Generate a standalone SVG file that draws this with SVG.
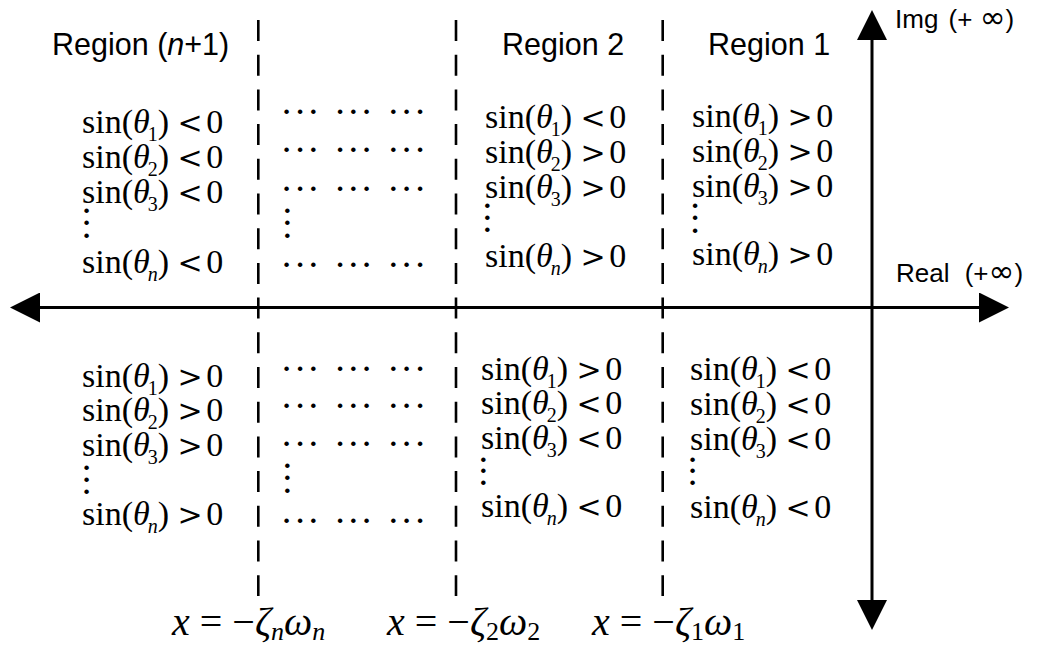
<svg xmlns="http://www.w3.org/2000/svg" width="1039" height="649" viewBox="0 0 1039 649">
<style>
.lbl{font-family:"Liberation Sans",Arial,sans-serif;font-size:30.5px;fill:#000}
.ax{font-family:"Liberation Sans",Arial,sans-serif;font-size:26px;fill:#000}
.inf{font-family:"DejaVu Sans",sans-serif;font-size:31px}
.m{font-family:"Liberation Serif","Times New Roman",serif;font-size:34px;fill:#000}
.r{font-family:"DejaVu Serif",serif;font-size:30px}
.i{font-style:italic}
.s{font-size:20px}
.xl{font-family:"Liberation Serif","Times New Roman",serif;font-size:40px;fill:#000}
.xs{font-size:26px}
.hd,.vd{font-family:"Liberation Serif","Times New Roman",serif;font-size:38px;fill:#000;text-anchor:middle}
.axis{stroke:#000;stroke-width:3;fill:none}
.dash{stroke:#000;stroke-width:2.6;stroke-dasharray:21 13.7;fill:none}
</style>
<defs>
<marker id="arr" markerUnits="userSpaceOnUse" markerWidth="30" markerHeight="30" viewBox="0 0 30 30" refX="0" refY="15" orient="auto-start-reverse">
<path d="M0,0 L30,15 L0,30 z" fill="#000"/>
</marker>
</defs>
<rect width="1039" height="649" fill="#fff"/>
<g id="connectors">
<line class="axis" x1="40" y1="307.5" x2="979" y2="307.5" marker-start="url(#arr)" marker-end="url(#arr)"/>
<line class="axis" x1="872" y1="40" x2="872" y2="600" marker-start="url(#arr)" marker-end="url(#arr)"/>
<line class="dash" x1="258.3" y1="20" x2="258.3" y2="596"/>
<line class="dash" x1="456" y1="20" x2="456" y2="596"/>
<line class="dash" x1="662.7" y1="20" x2="662.7" y2="596"/>
</g>
<g id="axis-labels">
<text class="ax" x="895" y="28">Img <tspan dx="3">(+</tspan> <tspan class="inf">∞</tspan>)</text>
<text class="ax" x="896" y="282">Real <tspan dx="8">(+</tspan><tspan class="inf">∞</tspan>)</text>
</g>
<g id="region-n1">
<text class="lbl" x="52" y="55">Region (<tspan class="i">n</tspan>+1)</text>
<text class="m" x="82" y="133">sin(<tspan class="i">θ</tspan><tspan class="s" dx="-2" dy="8">1</tspan><tspan dy="-8">)</tspan> <tspan class="r">&lt;</tspan><tspan dx="-5"> 0</tspan></text>
<text class="m" x="82" y="168">sin(<tspan class="i">θ</tspan><tspan class="s" dx="-2" dy="8">2</tspan><tspan dy="-8">)</tspan> <tspan class="r">&lt;</tspan><tspan dx="-5"> 0</tspan></text>
<text class="m" x="82" y="203">sin(<tspan class="i">θ</tspan><tspan class="s" dx="-2" dy="8">3</tspan><tspan dy="-8">)</tspan> <tspan class="r">&lt;</tspan><tspan dx="-5"> 0</tspan></text>
<text class="vd"><tspan x="86.7" y="223">·</tspan><tspan x="86.7" dy="12.3">·</tspan><tspan x="86.7" dy="12.3">·</tspan></text>
<text class="m" x="82" y="273">sin(<tspan class="i">θ</tspan><tspan class="s i" dx="-2" dy="8">n</tspan><tspan dy="-8">)</tspan> <tspan class="r">&lt;</tspan><tspan dx="-5"> 0</tspan></text>
<text class="m" x="82" y="387">sin(<tspan class="i">θ</tspan><tspan class="s" dx="-2" dy="8">1</tspan><tspan dy="-8">)</tspan> <tspan class="r">&gt;</tspan><tspan dx="-5"> 0</tspan></text>
<text class="m" x="82" y="421">sin(<tspan class="i">θ</tspan><tspan class="s" dx="-2" dy="8">2</tspan><tspan dy="-8">)</tspan> <tspan class="r">&gt;</tspan><tspan dx="-5"> 0</tspan></text>
<text class="m" x="82" y="456">sin(<tspan class="i">θ</tspan><tspan class="s" dx="-2" dy="8">3</tspan><tspan dy="-8">)</tspan> <tspan class="r">&gt;</tspan><tspan dx="-5"> 0</tspan></text>
<text class="vd"><tspan x="86.7" y="480">·</tspan><tspan x="86.7" dy="12">·</tspan><tspan x="86.7" dy="12">·</tspan></text>
<text class="m" x="82" y="525">sin(<tspan class="i">θ</tspan><tspan class="s i" dx="-2" dy="8">n</tspan><tspan dy="-8">)</tspan> <tspan class="r">&gt;</tspan><tspan dx="-5"> 0</tspan></text>
</g>
<g id="region-middle">
<text class="hd" x="286.7 300 313.3 326.6 340 353.3 366.6 380 393.3 406.6 420" y="124.3">··· ··· ···</text>
<text class="hd" x="286.7 300 313.3 326.6 340 353.3 366.6 380 393.3 406.6 420" y="162.3">··· ··· ···</text>
<text class="hd" x="286.7 300 313.3 326.6 340 353.3 366.6 380 393.3 406.6 420" y="201.3">··· ··· ···</text>
<text class="vd"><tspan x="287.3" y="223">·</tspan><tspan x="287.3" dy="12.3">·</tspan><tspan x="287.3" dy="12.3">·</tspan></text>
<text class="hd" x="286.7 300 313.3 326.6 340 353.3 366.6 380 393.3 406.6 420" y="277.3">··· ··· ···</text>
<text class="hd" x="286.7 300 313.3 326.6 340 353.3 366.6 380 393.3 406.6 420" y="381">··· ··· ···</text>
<text class="hd" x="286.7 300 313.3 326.6 340 353.3 366.6 380 393.3 406.6 420" y="417.6">··· ··· ···</text>
<text class="hd" x="286.7 300 313.3 326.6 340 353.3 366.6 380 393.3 406.6 420" y="456">··· ··· ···</text>
<text class="vd"><tspan x="287.3" y="478">·</tspan><tspan x="287.3" dy="12.3">·</tspan><tspan x="287.3" dy="12.3">·</tspan></text>
<text class="hd" x="286.7 300 313.3 326.6 340 353.3 366.6 380 393.3 406.6 420" y="532.6">··· ··· ···</text>
</g>
<g id="region-2">
<text class="lbl" x="502" y="55">Region 2</text>
<text class="m" x="485" y="128">sin(<tspan class="i">θ</tspan><tspan class="s" dx="-2" dy="8">1</tspan><tspan dy="-8">)</tspan> <tspan class="r">&lt;</tspan><tspan dx="-5"> 0</tspan></text>
<text class="m" x="485" y="163">sin(<tspan class="i">θ</tspan><tspan class="s" dx="-2" dy="8">2</tspan><tspan dy="-8">)</tspan> <tspan class="r">&gt;</tspan><tspan dx="-5"> 0</tspan></text>
<text class="m" x="485" y="198">sin(<tspan class="i">θ</tspan><tspan class="s" dx="-2" dy="8">3</tspan><tspan dy="-8">)</tspan> <tspan class="r">&gt;</tspan><tspan dx="-5"> 0</tspan></text>
<text class="vd"><tspan x="487.3" y="218">·</tspan><tspan x="487.3" dy="12">·</tspan><tspan x="487.3" dy="12">·</tspan></text>
<text class="m" x="485" y="267">sin(<tspan class="i">θ</tspan><tspan class="s i" dx="-2" dy="8">n</tspan><tspan dy="-8">)</tspan> <tspan class="r">&gt;</tspan><tspan dx="-5"> 0</tspan></text>
<text class="m" x="481" y="380">sin(<tspan class="i">θ</tspan><tspan class="s" dx="-2" dy="8">1</tspan><tspan dy="-8">)</tspan> <tspan class="r">&gt;</tspan><tspan dx="-5"> 0</tspan></text>
<text class="m" x="481" y="414">sin(<tspan class="i">θ</tspan><tspan class="s" dx="-2" dy="8">2</tspan><tspan dy="-8">)</tspan> <tspan class="r">&lt;</tspan><tspan dx="-5"> 0</tspan></text>
<text class="m" x="481" y="449">sin(<tspan class="i">θ</tspan><tspan class="s" dx="-2" dy="8">3</tspan><tspan dy="-8">)</tspan> <tspan class="r">&lt;</tspan><tspan dx="-5"> 0</tspan></text>
<text class="vd"><tspan x="483.3" y="471.5">·</tspan><tspan x="483.3" dy="11.7">·</tspan><tspan x="483.3" dy="11.7">·</tspan></text>
<text class="m" x="481" y="517">sin(<tspan class="i">θ</tspan><tspan class="s i" dx="-2" dy="8">n</tspan><tspan dy="-8">)</tspan> <tspan class="r">&lt;</tspan><tspan dx="-5"> 0</tspan></text>
</g>
<g id="region-1">
<text class="lbl" x="708" y="55">Region 1</text>
<text class="m" x="692" y="127">sin(<tspan class="i">θ</tspan><tspan class="s" dx="-2" dy="8">1</tspan><tspan dy="-8">)</tspan> <tspan class="r">&gt;</tspan><tspan dx="-5"> 0</tspan></text>
<text class="m" x="692" y="162">sin(<tspan class="i">θ</tspan><tspan class="s" dx="-2" dy="8">2</tspan><tspan dy="-8">)</tspan> <tspan class="r">&gt;</tspan><tspan dx="-5"> 0</tspan></text>
<text class="m" x="692" y="197">sin(<tspan class="i">θ</tspan><tspan class="s" dx="-2" dy="8">3</tspan><tspan dy="-8">)</tspan> <tspan class="r">&gt;</tspan><tspan dx="-5"> 0</tspan></text>
<text class="vd"><tspan x="695" y="218">·</tspan><tspan x="695" dy="12.3">·</tspan><tspan x="695" dy="12.3">·</tspan></text>
<text class="m" x="692" y="265">sin(<tspan class="i">θ</tspan><tspan class="s i" dx="-2" dy="8">n</tspan><tspan dy="-8">)</tspan> <tspan class="r">&gt;</tspan><tspan dx="-5"> 0</tspan></text>
<text class="m" x="690" y="380">sin(<tspan class="i">θ</tspan><tspan class="s" dx="-2" dy="8">1</tspan><tspan dy="-8">)</tspan> <tspan class="r">&lt;</tspan><tspan dx="-5"> 0</tspan></text>
<text class="m" x="690" y="415">sin(<tspan class="i">θ</tspan><tspan class="s" dx="-2" dy="8">2</tspan><tspan dy="-8">)</tspan> <tspan class="r">&lt;</tspan><tspan dx="-5"> 0</tspan></text>
<text class="m" x="690" y="450">sin(<tspan class="i">θ</tspan><tspan class="s" dx="-2" dy="8">3</tspan><tspan dy="-8">)</tspan> <tspan class="r">&lt;</tspan><tspan dx="-5"> 0</tspan></text>
<text class="vd"><tspan x="692.7" y="471.5">·</tspan><tspan x="692.7" dy="11.7">·</tspan><tspan x="692.7" dy="11.7">·</tspan></text>
<text class="m" x="690" y="518">sin(<tspan class="i">θ</tspan><tspan class="s i" dx="-2" dy="8">n</tspan><tspan dy="-8">)</tspan> <tspan class="r">&lt;</tspan><tspan dx="-5"> 0</tspan></text>
</g>
<g id="boundary-labels">
<text class="xl" x="172" y="635"><tspan class="i">x</tspan> = −<tspan class="i">ζ</tspan><tspan class="xs i" dy="5">n</tspan><tspan class="i" dy="-5">ω</tspan><tspan class="xs i" dy="5">n</tspan></text>
<text class="xl" x="387" y="635"><tspan class="i">x</tspan> = −<tspan class="i">ζ</tspan><tspan class="xs" dy="5">2</tspan><tspan class="i" dy="-5">ω</tspan><tspan class="xs" dy="5">2</tspan></text>
<text class="xl" x="592" y="635"><tspan class="i">x</tspan> = −<tspan class="i">ζ</tspan><tspan class="xs" dy="5">1</tspan><tspan class="i" dy="-5">ω</tspan><tspan class="xs" dy="5">1</tspan></text>
</g>
</svg>
